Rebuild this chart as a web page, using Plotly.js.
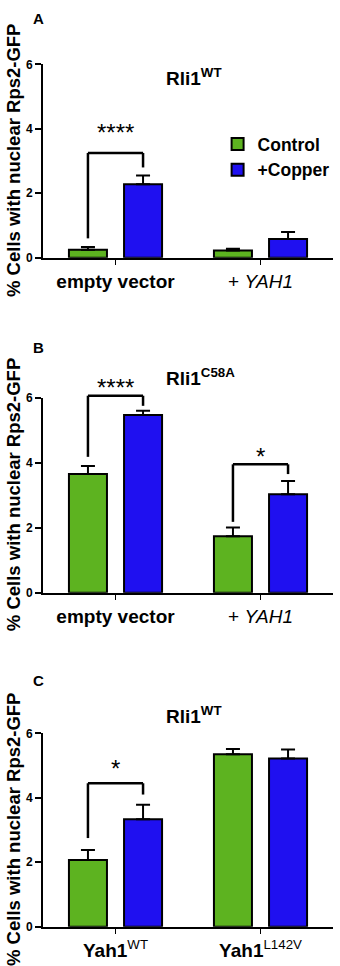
<!DOCTYPE html>
<html>
<head>
<meta charset="utf-8">
<script src="https://cdn.plot.ly/plotly-3.0.1.min.js"></script>
<style>
  html, body { margin: 0; padding: 0; background: #fff; }
  #chart { width: 340px; height: 966px; }
</style>
</head>
<body>
<div id="chart"></div>
<script>
// ---- data -------------------------------------------------------------
const groupsAB = ['empty vector', '<span style="font-weight:normal">+ <i>YAH1</i></span>'];
const groupsC = ['Yah1<span style="font-weight:normal"><sup>WT</sup></span>',
                 'Yah1<span style="font-weight:normal"><sup>L142V</sup></span>'];
const strainTitles = ['Rli1<sup>WT</sup>', 'Rli1<sup>C58A</sup>', 'Rli1<sup>WT</sup>'];
const panelLetters = ['A', 'B', 'C'];
const seriesNames = ['Control', '+Copper'];
const yTitle = '% Cells with nuclear Rps2-GFP';
const yTicks = [0, 2, 4, 6];

// panel A
const controlA = [0.25, 0.22];
const controlErrA = [0.08, 0.06];
const copperA = [2.28, 0.58];
const copperErrA = [0.27, 0.22];
// panel B
const controlB = [3.65, 1.74];
const controlErrB = [0.25, 0.27];
const copperB = [5.47, 3.03];
const copperErrB = [0.13, 0.41];
// panel C
const controlC = [2.07, 5.35];
const controlErrC = [0.31, 0.16];
const copperC = [3.33, 5.22];
const copperErrC = [0.45, 0.28];

// significance brackets: group index, bracket top, leg ends, label, label height
const bracketGroupA = [0], bracketTopA = [3.25], bracketLeftEndA = [0.6], bracketRightEndA = [2.8], starsA = ['****'], starsYA = [4.0];
const bracketGroupB = [0, 1], bracketTopB = [6.06, 3.95], bracketLeftEndB = [4.18, 2.18], bracketRightEndB = [5.75, 3.65], starsB = ['****', '*'], starsYB = [6.45, 4.3];
const bracketGroupC = [0], bracketTopC = [4.45], bracketLeftEndC = [2.75], bracketRightEndC = [4.1], starsC = ['*'], starsYC = [5.02];

// ---- styling ----------------------------------------------------------
const W = 340, H = 966;
const FONT = 'Liberation Sans, Arial, sans-serif';
const GREEN = '#5db320';
const BLUE = '#1f10f0';
const Y_MAX = 6;
const BARGAP = 0.24;
const BAR_OFFSET = (1 - BARGAP) / 4;   // centre of each bar relative to its group
const xDomain = [43 / W, 333 / W];
// pixel rows of the value 6 (top) and 0 (bottom) in each panel
const panelPx = [[64.3, 257.7], [397.7, 592.7], [733.3, 926.7]];

const panels = [
  { groups: groupsAB, control: controlA, controlErr: controlErrA, copper: copperA, copperErr: copperErrA,
    bg: bracketGroupA, bt: bracketTopA, bl: bracketLeftEndA, br: bracketRightEndA, st: starsA, sy: starsYA },
  { groups: groupsAB, control: controlB, controlErr: controlErrB, copper: copperB, copperErr: copperErrB,
    bg: bracketGroupB, bt: bracketTopB, bl: bracketLeftEndB, br: bracketRightEndB, st: starsB, sy: starsYB },
  { groups: groupsC, control: controlC, controlErr: controlErrC, copper: copperC, copperErr: copperErrC,
    bg: bracketGroupC, bt: bracketTopC, bl: bracketLeftEndC, br: bracketRightEndC, st: starsC, sy: starsYC }
];

const traces = [];
const shapes = [];
const annotations = [];
const layout = {
  width: W, height: H,
  margin: { l: 0, r: 0, t: 0, b: 0 },
  paper_bgcolor: '#fff', plot_bgcolor: '#fff',
  font: { family: FONT, color: '#000' },
  barmode: 'group', bargap: BARGAP, bargroupgap: 0.31,
  showlegend: true,
  legend: {
    x: 0.64, y: 1 - 126 / H, xanchor: 'left', yanchor: 'top',
    bgcolor: 'rgba(0,0,0,0)', tracegroupgap: 0,
    font: { family: FONT, size: 17.5, weight: 'bold', color: '#000' }
  },
  shapes: shapes, annotations: annotations
};

function errorBar(arr) {
  return { type: 'data', symmetric: false, array: arr, arrayminus: arr.map(() => 0),
           color: '#000', thickness: 2, width: 7 };
}

panels.forEach((p, i) => {
  const n = i === 0 ? '' : String(i + 1);
  const xa = 'x' + n, ya = 'y' + n;
  const top = 1 - panelPx[i][0] / H, bottom = 1 - panelPx[i][1] / H;

  traces.push({
    type: 'bar', name: seriesNames[0], x: p.groups, y: p.control,
    xaxis: xa, yaxis: ya, showlegend: i === 0, legendgroup: 'c',
    marker: { color: GREEN, line: { color: '#000', width: 2 } },
    error_y: errorBar(p.controlErr), hoverinfo: 'skip'
  });
  traces.push({
    type: 'bar', name: seriesNames[1], x: p.groups, y: p.copper,
    xaxis: xa, yaxis: ya, showlegend: i === 0, legendgroup: 'k',
    marker: { color: BLUE, line: { color: '#000', width: 2 } },
    error_y: errorBar(p.copperErr), hoverinfo: 'skip'
  });

  layout['xaxis' + n] = {
    domain: xDomain, anchor: ya, type: 'category', categoryorder: 'array', categoryarray: p.groups,
    range: [-0.5, 1.5], fixedrange: true,
    showline: true, linecolor: '#000', linewidth: 2,
    ticks: 'outside', ticklen: 5, tickwidth: 1.5, tickcolor: '#000',
    showgrid: false, zeroline: false,
    tickfont: { family: FONT, size: 19, weight: 'bold', color: '#000' }
  };
  layout['yaxis' + n] = {
    domain: [bottom, top], anchor: xa, range: [0, Y_MAX], fixedrange: true,
    tickvals: yTicks, ticktext: yTicks.map(String),
    showline: true, linecolor: '#000', linewidth: 2,
    ticks: 'outside', ticklen: 6, tickwidth: 2, tickcolor: '#000',
    showgrid: false, zeroline: false,
    tickfont: { family: FONT, size: 12, weight: 'bold', color: '#000' }
  };

  // significance brackets, drawn from bar centre to bar centre
  p.bg.forEach((g, k) => {
    const xl = g - BAR_OFFSET, xr = g + BAR_OFFSET;
    const yd = ya + ' domain';
    const line = { color: '#000', width: 2.5 };
    shapes.push({ type: 'line', xref: xa, yref: yd, x0: xl, x1: xr, y0: p.bt[k] / Y_MAX, y1: p.bt[k] / Y_MAX, line });
    shapes.push({ type: 'line', xref: xa, yref: yd, x0: xl, x1: xl, y0: p.bl[k] / Y_MAX, y1: p.bt[k] / Y_MAX, line });
    shapes.push({ type: 'line', xref: xa, yref: yd, x0: xr, x1: xr, y0: p.br[k] / Y_MAX, y1: p.bt[k] / Y_MAX, line });
    annotations.push({
      xref: xa, yref: yd, x: g, y: p.sy[k] / Y_MAX, text: p.st[k], showarrow: false,
      xanchor: 'center', yanchor: 'middle', yshift: -4,
      font: { family: FONT, size: 24, color: '#000' }
    });
  });

  // strain title inside the panel
  const titleY = [77, 377, 715][i];
  annotations.push({
    xref: 'paper', yref: 'paper', x: 164 / W, y: 1 - titleY / H, text: strainTitles[i],
    showarrow: false, xanchor: 'left', yanchor: 'middle',
    font: { family: FONT, size: 19, weight: 'bold', color: '#000' }
  });
  // panel letter
  const letterY = [18, 347, 680][i];
  annotations.push({
    xref: 'paper', yref: 'paper', x: 38 / W, y: 1 - letterY / H, text: panelLetters[i],
    showarrow: false, xanchor: 'center', yanchor: 'middle',
    font: { family: FONT, size: 15, weight: 'bold', color: '#000' }
  });
  // y-axis title
  annotations.push({
    xref: 'paper', yref: 'paper', x: 13 / W, y: (top + bottom) / 2, text: yTitle,
    showarrow: false, textangle: -90, xanchor: 'center', yanchor: 'middle',
    font: { family: FONT, size: 18.5, weight: 'bold', color: '#000' }
  });
});

Plotly.newPlot('chart', traces, layout, { staticPlot: true, displayModeBar: false });
</script>
</body>
</html>
